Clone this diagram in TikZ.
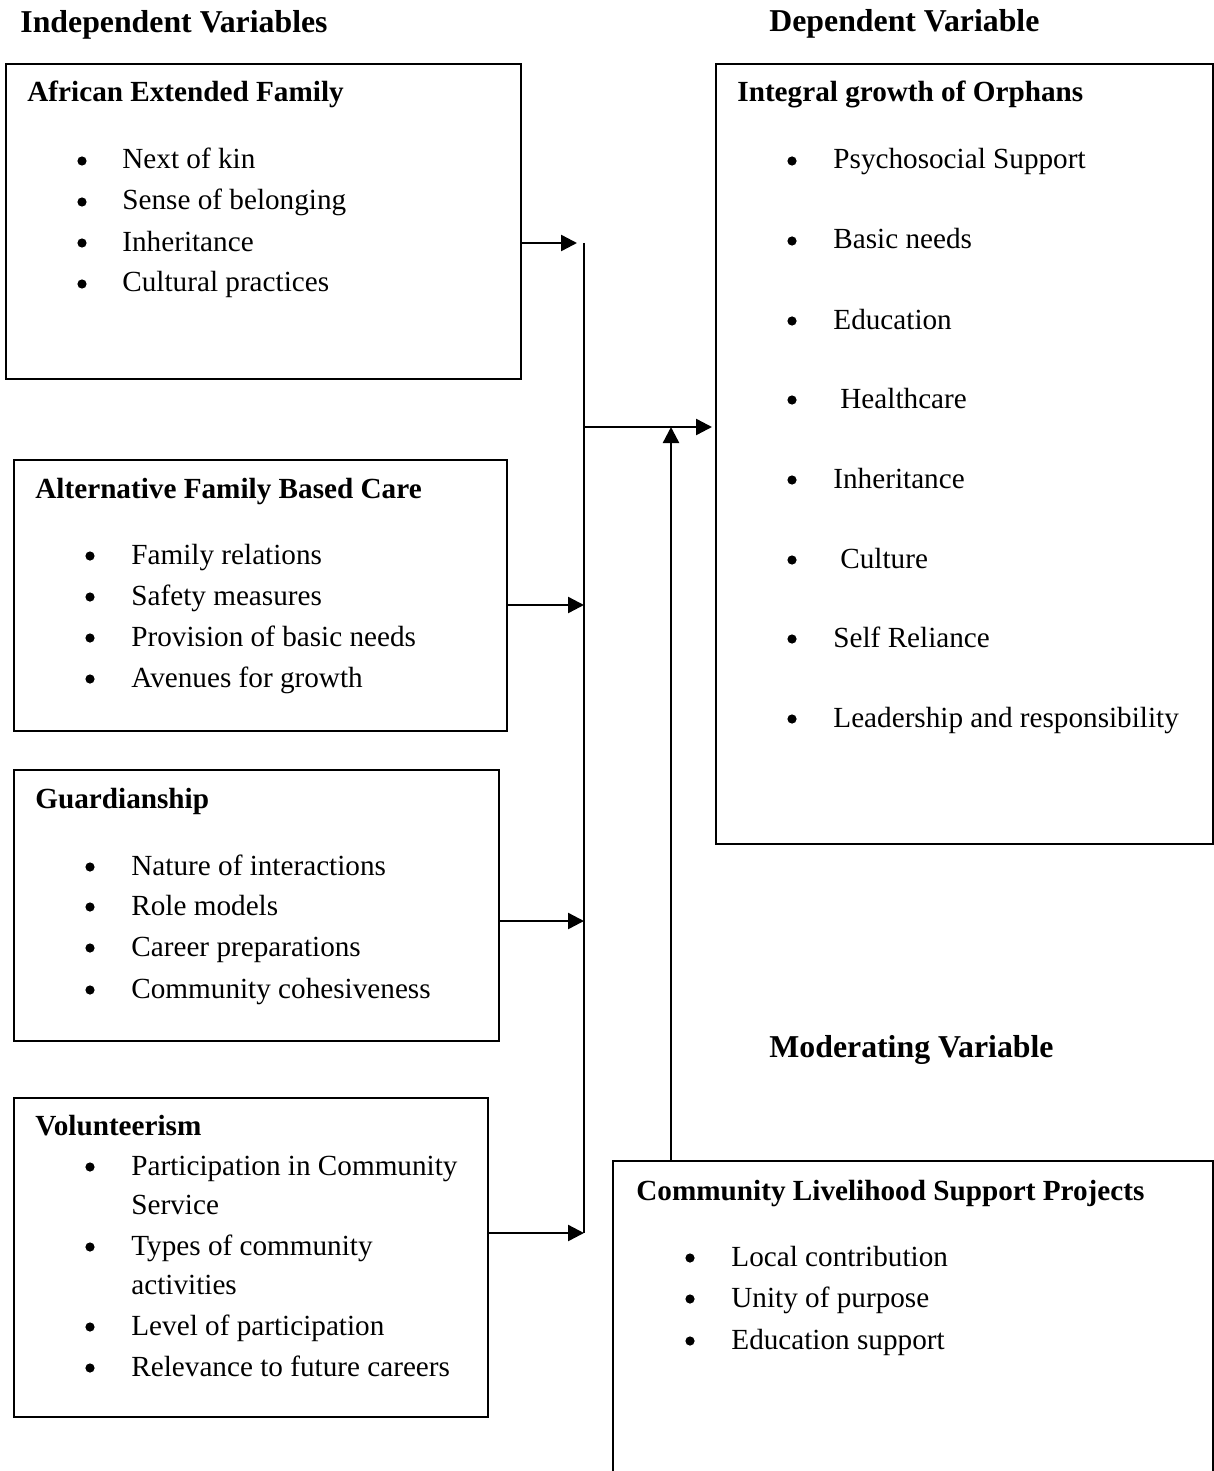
\documentclass[tikz,border=0pt]{standalone}
\usepackage{fontspec}
\setmainfont{Liberation Serif}
\usetikzlibrary{arrows.meta,fit}
\begin{document}
\begin{tikzpicture}[x=0.5pt,y=-0.5pt,
  box/.style={draw=black, line width=0.9pt, inner sep=0pt, outer sep=0pt},
  hdr/.style={anchor=base west, inner sep=0pt, font=\fontsize{15.9pt}{18pt}\selectfont\bfseries},
  btitle/.style={anchor=base west, inner sep=0pt, font=\fontsize{14.6pt}{17pt}\selectfont\bfseries},
  item/.style={anchor=base west, inner sep=0pt, font=\fontsize{14.6pt}{17pt}\selectfont},
  bul/.style={circle, fill=black, inner sep=0pt, minimum size=4.6pt},
  conn/.style={line width=1.2pt},
  arr/.style={line width=1.2pt, -{Triangle[length=8pt,width=8pt]}}]
\useasboundingbox (0,0) rectangle (1214,1471);

% Headers
\node[hdr] (hind) at (20,33) {Independent Variables};
\node[hdr] (hdep) at (769,32) {Dependent Variable};
\node[hdr] (hmod) at (769,1057) {Moderating Variable};

% Boxes
\node[box, fit={(6,64) (521,379)}] (b1) {};
\node[box, fit={(14,460) (507,731)}] (b2) {};
\node[box, fit={(14,770) (499,1041)}] (b3) {};
\node[box, fit={(14,1098) (488,1417)}] (b4) {};
\node[box, fit={(716,64) (1213,844)}] (dep) {};
\node[box, fit={(613,1161) (1213,1490)}] (mod) {};

% Box 1
\node[btitle] (t1) at (27,102) {African Extended Family};
\foreach \yy/\txt [count=\i] in {169/Next of kin, 210/Sense of belonging, 251/Inheritance, 292/Cultural practices}{
  \node[bul] (b1d\i) at (82,\yy-8) {};
  \node[item] (b1t\i) at (122,\yy) {\txt};
}

% Box 2
\node[btitle] (t2) at (35,498) {Alternative Family Based Care};
\foreach \yy/\txt [count=\i] in {564/Family relations, 605/Safety measures, 646/Provision of basic needs, 687/Avenues for growth}{
  \node[bul] (b2d\i) at (90,\yy-8) {};
  \node[item] (b2t\i) at (131,\yy) {\txt};
}

% Box 3
\node[btitle] (t3) at (35,808) {Guardianship};
\foreach \yy/\txt [count=\i] in {875/Nature of interactions, 915/Role models, 956/Career preparations, 998/Community cohesiveness}{
  \node[bul] (b3d\i) at (90,\yy-8) {};
  \node[item] (b3t\i) at (131,\yy) {\txt};
}

% Box 4
\node[btitle] (t4) at (35,1135) {Volunteerism};
\foreach \yy in {1175,1255,1335,1376}{
  \node[bul] (b4d\yy) at (90,\yy-8) {};
}
\node[item] (b4t1) at (131,1175) {Participation in Community};
\node[item] (b4t1b) at (131,1214) {Service};
\node[item] (b4t2) at (131,1255) {Types of community};
\node[item] (b4t2b) at (131,1294) {activities};
\node[item] (b4t3) at (131,1335) {Level of participation};
\node[item] (b4t4) at (131,1376) {Relevance to future careers};

% Dependent box
\node[btitle] (td) at (737,102) {Integral growth of Orphans};
\foreach \yy/\xx/\txt [count=\i] in {169/833/Psychosocial Support, 249/833/Basic needs, 329/833/Education, 408/840/Healthcare, 488/833/Inheritance, 568/840/Culture, 647/833/Self Reliance, 727/833/Leadership and responsibility}{
  \node[bul] (ddot\i) at (792,\yy-8) {};
  \node[item] (dt\i) at (\xx,\yy) {\txt};
}

% Moderating box
\node[btitle] (tm) at (636,1200) {Community Livelihood Support Projects};
\foreach \yy/\txt [count=\i] in {1266/Local contribution, 1307/Unity of purpose, 1349/Education support}{
  \node[bul] (mdot\i) at (690,\yy-8) {};
  \node[item] (mt\i) at (731,\yy) {\txt};
}

% Connector coordinates
\coordinate (bustop) at (584,243);
\coordinate (busbot) at (584,1233);
\coordinate (a2) at (584,605);
\coordinate (a3) at (584,921);
\coordinate (hub) at (584,427);
\coordinate (hubm) at (671,427);

% Connectors
\draw[conn] (bustop) -- (busbot);
\draw[arr, shorten >=3.5pt] (b1.east |- bustop) -- (bustop);
\draw[arr] (b2.east |- a2) -- (a2);
\draw[arr] (b3.east |- a3) -- (a3);
\draw[arr] (b4.east |- busbot) -- (busbot);
\draw[arr, shorten >=2pt] (hub) -- (dep.west |- hub);
\draw[arr] (mod.north -| hubm) -- (hubm);
\end{tikzpicture}
\end{document}
